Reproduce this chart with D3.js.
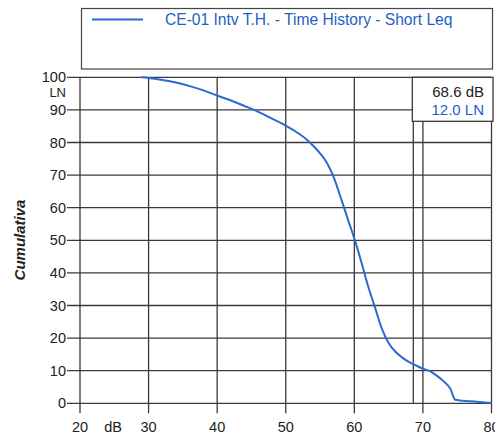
<!DOCTYPE html>
<html><head><meta charset="utf-8">
<script src="https://cdn.jsdelivr.net/npm/d3@7"></script>
<style>body{margin:0;background:#fff;}svg{display:block;font-family:"Liberation Sans",Arial,sans-serif;}</style>
</head><body>
<svg id="c" width="495" height="434"></svg>
<script>
const seriesName = "CE-01 Intv T.H. - Time History - Short Leq";
const dB = [29,30,32,34,36,38,40,42,44,46,48,50,52,53,54,55,56,57,58,59,60,61,62,63,64,65,66,67,68,68.6,70,71,72,73,74,74.7,77,80];
const LN = [100,99.8,99.2,98.4,97.3,96.0,94.4,92.9,91.2,89.4,87.3,85.2,82.6,81,79,76.7,73.8,69.3,63.2,56.8,50.5,43.5,36,29.5,23,18.5,15.8,14,12.6,12.0,10.6,9.9,8.5,6.8,4.5,1.1,0.6,0.1];
const xTicks = [20,30,40,50,60,70,80];
const yTicks = [0,10,20,30,40,50,60,70,80,90,100];
const cursorDB = 68.6, cursorLN = 12.0;

const svg = d3.select("#c");
const x = d3.scaleLinear().domain([20,80]).range([80,491.5]);
const y = d3.scaleLinear().domain([0,100]).range([403.3,77.3]);
const grid = "#3a3a3a", blue = "#2a6bd0";

// legend box
svg.append("rect").attr("x",81.5).attr("y",8.5).attr("width",411).attr("height",60.5)
  .attr("fill","#fff").attr("stroke","#444").attr("stroke-width",1.2);
svg.append("line").attr("x1",92).attr("x2",143).attr("y1",19.5).attr("y2",19.5)
  .attr("stroke",blue).attr("stroke-width",2);
svg.append("text").attr("x",165).attr("y",25).attr("font-size",15.6).attr("fill","#1f5fc4").text(seriesName);

// grid
const g = svg.append("g");
g.selectAll("line.h").data(yTicks).join("line").attr("class","h")
  .attr("x1",67).attr("x2",x(80)).attr("y1",d=>y(d)).attr("y2",d=>y(d))
  .attr("stroke",grid).attr("stroke-width",1.3);
g.selectAll("line.v").data(xTicks).join("line").attr("class","v")
  .attr("x1",d=>x(d)).attr("x2",d=>x(d)).attr("y1",y(100)).attr("y2",y(0)+10)
  .attr("stroke",grid).attr("stroke-width",1.3);

// y labels
g.selectAll("text.yl").data(yTicks).join("text").attr("class","yl")
  .attr("x",66).attr("y",d=>y(d)+5).attr("text-anchor","end").attr("font-size",14.5).attr("fill","#222")
  .text(d=>d);
svg.append("text").attr("x",66).attr("y",y(100)+20).attr("text-anchor","end").attr("font-size",13).attr("fill","#222").text("LN");
// x labels
g.selectAll("text.xl").data(xTicks).join("text").attr("class","xl")
  .attr("x",d=>x(d)).attr("y",432).attr("text-anchor","middle").attr("font-size",14.5).attr("fill","#222")
  .text(d=>d);
svg.append("text").attr("x",113).attr("y",432).attr("text-anchor","middle").attr("font-size",14.5).attr("fill","#222").text("dB");

// y title
svg.append("text").attr("transform","translate(25,240) rotate(-90)").attr("text-anchor","middle")
  .attr("font-size",15).attr("font-weight","bold").attr("font-style","italic").attr("fill","#222").text("Cumulativa");

// cursor line
svg.append("line").attr("x1",x(cursorDB)).attr("x2",x(cursorDB)).attr("y1",y(100)).attr("y2",y(0))
  .attr("stroke",grid).attr("stroke-width",1.3);

// curve
const pts = dB.map((d,i)=>[d,LN[i]]);
svg.append("path").datum(pts)
  .attr("d",d3.line().x(d=>x(d[0])).y(d=>y(d[1])).curve(d3.curveMonotoneX))
  .attr("fill","none").attr("stroke",blue).attr("stroke-width",2);

// cursor box
svg.append("rect").attr("x",x(cursorDB)-1).attr("y",y(100)).attr("width",493-(x(cursorDB)-1)).attr("height",44)
  .attr("fill","#fff").attr("stroke",grid).attr("stroke-width",1.3);
svg.append("text").attr("x",484).attr("y",97).attr("text-anchor","end").attr("font-size",15).attr("fill","#222")
  .text(cursorDB.toFixed(1)+" dB");
svg.append("text").attr("x",484).attr("y",115).attr("text-anchor","end").attr("font-size",15).attr("fill","#1f5fc4")
  .text(cursorLN.toFixed(1)+" LN");
</script>
</body></html>
